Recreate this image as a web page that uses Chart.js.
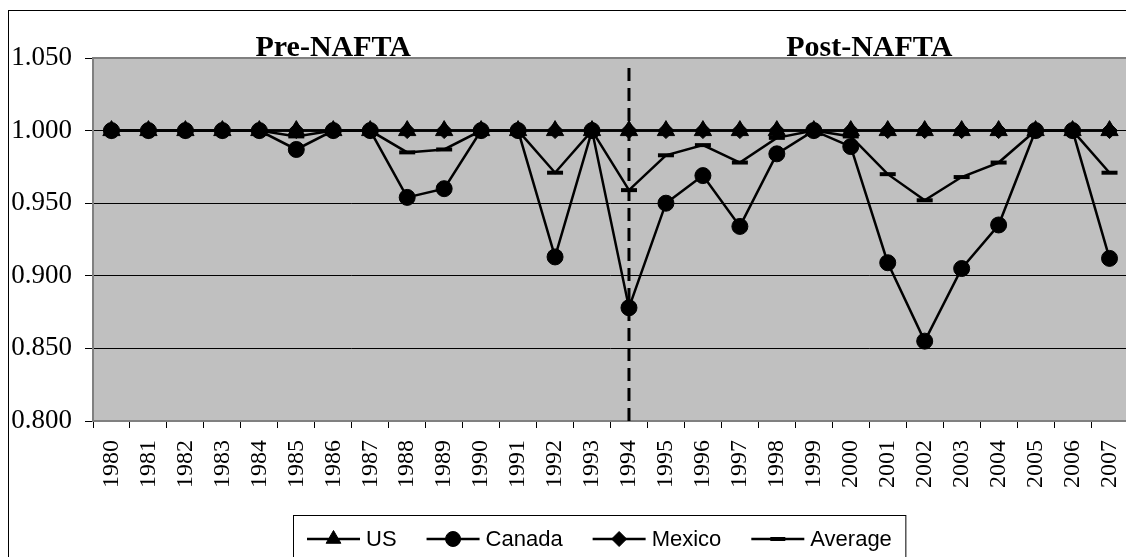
<!DOCTYPE html>
<html>
<head>
<meta charset="utf-8">
<script src="https://cdn.jsdelivr.net/npm/chart.js@4/dist/chart.umd.min.js"></script>
<style>
  html, body { margin: 0; padding: 0; overflow: hidden; background: #fff; width: 1126px; height: 557px; }
  canvas { display: block; }
</style>
</head>
<body>
<canvas id="chart" width="1140" height="570" style="width:1140px;height:570px"></canvas>
<script>
// Years on the category axis
const years = ['1980','1981','1982','1983','1984','1985','1986','1987','1988','1989',
               '1990','1991','1992','1993','1994','1995','1996','1997','1998','1999',
               '2000','2001','2002','2003','2004','2005','2006','2007'];

// Series values, one per year
const usValues = [1.000,1.000,1.000,1.000,1.000,1.000,1.000,1.000,1.000,1.000,
                  1.000,1.000,1.000,1.000,1.000,1.000,1.000,1.000,1.000,1.000,
                  1.000,1.000,1.000,1.000,1.000,1.000,1.000,1.000];
const canadaValues = [1.000,1.000,1.000,1.000,1.000,0.987,1.000,1.000,0.954,0.960,
                      1.000,1.000,0.913,1.000,0.878,0.950,0.969,0.934,0.984,1.000,
                      0.989,0.909,0.855,0.905,0.935,1.000,1.000,0.912];
const mexicoValues = [1.000,1.000,1.000,1.000,1.000,1.000,1.000,1.000,1.000,1.000,
                      1.000,1.000,1.000,1.000,1.000,1.000,1.000,1.000,1.000,1.000,
                      1.000,1.000,1.000,1.000,1.000,1.000,1.000,1.000];
const averageValues = [1.000,1.000,1.000,1.000,1.000,0.996,1.000,1.000,0.985,0.987,
                       1.000,1.000,0.971,1.000,0.959,0.983,0.990,0.978,0.995,1.000,
                       0.996,0.970,0.952,0.968,0.978,1.000,1.000,0.971];

// Value-axis ticks
const yTicks = [0.800, 0.850, 0.900, 0.950, 1.000, 1.050];

// Period captions and the year where the agreement took effect
const periodLabels = ['Pre-NAFTA', 'Post-NAFTA'];
const periodAnchors = [['1986','1986'], ['2000','2001']];
const dividerYear = '1994';

const serif = 'Liberation Serif, Times New Roman, serif';
const sans = 'Liberation Sans, Arial, sans-serif';

function series(label, data, style, radius, order, extra) {
  return Object.assign({
    label, data, order,
    borderColor: '#000', backgroundColor: '#000', borderWidth: 2.5, tension: 0,
    pointStyle: style, pointRadius: radius, pointHoverRadius: radius,
    pointBackgroundColor: '#000', pointBorderColor: '#000', pointBorderWidth: 1
  }, extra || {});
}

const framePlugin = {
  id: 'frame',
  beforeDraw(chart) {
    const { ctx, chartArea: a } = chart;
    ctx.save();
    ctx.fillStyle = '#fff';
    ctx.fillRect(0, 0, chart.width, chart.height);
    ctx.strokeStyle = '#000';
    ctx.lineWidth = 1;
    ctx.strokeRect(8.5, 10.5, chart.width, chart.height);
    ctx.fillStyle = '#c0c0c0';
    ctx.fillRect(a.left, a.top, a.right - a.left, a.bottom - a.top);
    ctx.restore();
  },
  beforeDatasetsDraw(chart) {
    const { ctx, chartArea: a, scales } = chart;
    ctx.save();
    // plot-area border
    ctx.strokeStyle = '#808080';
    ctx.lineWidth = 2;
    ctx.strokeRect(a.left, a.top, a.right - a.left, a.bottom - a.top);
    // dashed divider at the agreement year
    const x = scales.x.getPixelForValue(years.indexOf(dividerYear));
    ctx.strokeStyle = '#000';
    ctx.lineWidth = 3;
    ctx.setLineDash([13, 7]);
    ctx.beginPath();
    ctx.moveTo(x, a.top + 10);
    ctx.lineTo(x, a.bottom);
    ctx.stroke();
    ctx.restore();
  },
  afterDraw(chart) {
    const { ctx, chartArea: a, scales } = chart;
    ctx.save();
    // period captions
    ctx.fillStyle = '#000';
    ctx.font = 'bold 30px ' + serif;
    ctx.textAlign = 'center';
    ctx.textBaseline = 'alphabetic';
    periodLabels.forEach((t, i) => {
      const p = periodAnchors[i].map(y => scales.x.getPixelForValue(years.indexOf(y)));
      ctx.fillText(t, (p[0] + p[1]) / 2, a.top - 2);
    });
    // legend
    const ly = 539;
    let x = 307;
    ctx.font = '22px ' + sans;
    ctx.textAlign = 'left';
    ctx.textBaseline = 'middle';
    chart.data.datasets.forEach(ds => {
      ctx.strokeStyle = '#000';
      ctx.lineWidth = 2.5;
      ctx.setLineDash([]);
      ctx.beginPath();
      ctx.moveTo(x, ly);
      ctx.lineTo(x + 53, ly);
      ctx.stroke();
      ctx.fillStyle = '#000';
      const isDash = ds.pointStyle === 'line';
      ctx.lineWidth = isDash ? 4 : 1;
      Chart.helpers.drawPoint(ctx, {
        pointStyle: ds.pointStyle,
        radius: ds.pointStyle === 'triangle' ? 8.5 : 7.5,
        borderWidth: isDash ? 4 : 1,
        rotation: 0
      }, x + 26.5, ly);
      ctx.fillStyle = '#000';
      ctx.fillText(ds.label, x + 59, ly + 1);
      x += 59 + ctx.measureText(ds.label).width + 30;
    });
    ctx.strokeStyle = '#000';
    ctx.lineWidth = 1;
    ctx.strokeRect(293.5, 515.5, x - 30 + 14 - 293.5, 100);
    ctx.restore();
  }
};

new Chart(document.getElementById('chart'), {
  type: 'line',
  data: {
    labels: years,
    datasets: [
      series('US', usValues, 'triangle', 10, 4),
      series('Canada', canadaValues, 'circle', 8, 1),
      series('Mexico', mexicoValues, 'rectRot', 8, 3),
      series('Average', averageValues, 'line', 8, 2, { pointBorderWidth: 4 })
    ]
  },
  options: {
    responsive: false,
    animation: false,
    events: [],
    layout: { padding: { top: 58, left: 0, right: 10, bottom: 69 } },
    plugins: { legend: { display: false }, tooltip: { enabled: false } },
    scales: {
      x: {
        type: 'category',
        offset: true,
        grid: { display: true, drawOnChartArea: false, drawTicks: true, tickLength: 7, offset: true, color: '#000' },
        border: { display: false },
        ticks: { minRotation: 90, maxRotation: 90, autoSkip: false, color: '#000', padding: 12,
                 font: { family: serif, size: 24 } },
        afterFit(s) { s.height = 80; s.paddingLeft = 0; s.paddingRight = 0; }
      },
      y: {
        min: 0.8, max: 1.05,
        afterBuildTicks(s) { s.ticks = yTicks.map(v => ({ value: v })); },
        grid: {
          color: c => (c.index === 0 || c.index === yTicks.length - 1) ? 'rgba(0,0,0,0)' : '#000',
          tickColor: '#000', tickLength: 8, lineWidth: 1
        },
        border: { display: false },
        ticks: { color: '#000', padding: 13, font: { family: serif, size: 27 },
                 callback: v => Number(v).toFixed(3) },
        afterFit(s) { s.width = 93; s.paddingTop = 0; s.paddingBottom = 0; }
      }
    }
  },
  plugins: [framePlugin]
});
</script>
</body>
</html>
